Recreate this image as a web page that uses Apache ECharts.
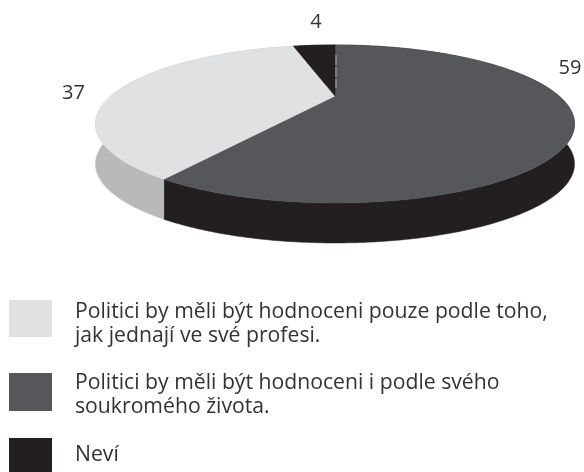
<!DOCTYPE html>
<html><head><meta charset="utf-8">
<style>html,body{margin:0;padding:0;background:#fff}#c{width:584px;height:472px}</style>
<script src="https://cdn.jsdelivr.net/npm/echarts@6/dist/echarts.min.js"></script>
</head><body><div id="c"></div>
<script>
var sliceNames = ['Politici by měli být hodnoceni i podle svého\nsoukromého života.', 'Politici by měli být hodnoceni pouze podle toho,\njak jednají ve své profesi.', 'Neví'];
var sliceValues = [59, 37, 4];
var topColors = ['#55575a', '#e0e1e3', '#231f20'];
var wallColors = ['#231f20', '#b8b9bb', '#231f20'];
var labelPositions = [[570, 68], [73.5, 93], [316, 22]];
var legendOrder = [1, 0, 2];

var FONT = '"Open Sans", sans-serif';
var cx = 335, cy = 96, B = 224, A = 69.1, K = 0.354, DEPTH = 40;
var total = sliceValues.reduce(function (a, b) { return a + b; }, 0);

function project(theta) {
  var u = Math.sin(theta), v = -Math.cos(theta), d = 1 - K * v;
  return [cx + B * u / d, cy + A * v / d];
}
function arc(a0, a1) {
  var pts = [], n = Math.max(2, Math.ceil((a1 - a0) / 0.01));
  for (var i = 0; i <= n; i++) pts.push(project(a0 + (a1 - a0) * i / n));
  return pts;
}
function angles(idx) {
  var before = 0;
  for (var i = 0; i < idx; i++) before += sliceValues[i];
  return [before / total * 2 * Math.PI, (before + sliceValues[idx]) / total * 2 * Math.PI];
}
function wallItem(params, api) {
  var a = angles(params.dataIndex), top = arc(a[0], a[1]);
  var bottom = top.map(function (p) { return [p[0], p[1] + DEPTH]; }).reverse();
  return { type: 'polygon', shape: { points: top.concat(bottom) },
    style: { fill: wallColors[params.dataIndex], stroke: wallColors[params.dataIndex], lineWidth: 0.5 } };
}
function topItem(params, api) {
  var a = angles(params.dataIndex);
  return { type: 'polygon', shape: { points: [[cx, cy]].concat(arc(a[0], a[1])) },
    style: { fill: topColors[params.dataIndex], stroke: topColors[params.dataIndex], lineWidth: 0.5 } };
}
function labelItem(params, api) {
  var p = labelPositions[params.dataIndex];
  return { type: 'text', x: p[0], y: p[1],
    style: { text: String(sliceValues[params.dataIndex]), fill: '#333', font: '20px ' + FONT, align: 'center', verticalAlign: 'middle' } };
}
var legendTops = [300, 373, 438], legendBottoms = [337, 411, 472], legendTextTop = [300, 371, 443];
var graphics = [];
legendOrder.forEach(function (s, i) {
  graphics.push({ type: 'rect', left: 9, top: legendTops[i], shape: { width: 43, height: legendBottoms[i] - legendTops[i] },
    style: { fill: topColors[s] } });
  graphics.push({ type: 'text', left: 75, top: legendTextTop[i],
    style: { text: sliceNames[s], fill: '#333', font: '21.2px ' + FONT, lineHeight: 24 } });
});
graphics.push({ type: 'line', shape: { x1: cx + 1, y1: 55, x2: cx + 1, y2: 88 },
  style: { stroke: '#a8a8a8', lineWidth: 1, lineDash: [10, 2] }, z: 10 });
var chart = echarts.init(document.getElementById('c'), null, { renderer: 'canvas' });
var seriesData = sliceValues.map(function (v, i) { return { name: sliceNames[i], value: v }; });
chart.setOption({
  animation: false,
  backgroundColor: '#fff',
  graphic: graphics,
  series: [
    { type: 'custom', coordinateSystem: 'none', renderItem: wallItem, data: seriesData, silent: true, z: 1 },
    { type: 'custom', coordinateSystem: 'none', renderItem: topItem, data: seriesData, silent: true, z: 2 },
    { type: 'custom', coordinateSystem: 'none', renderItem: labelItem, data: seriesData, silent: true, z: 3 }
  ]
});
</script></body></html>
